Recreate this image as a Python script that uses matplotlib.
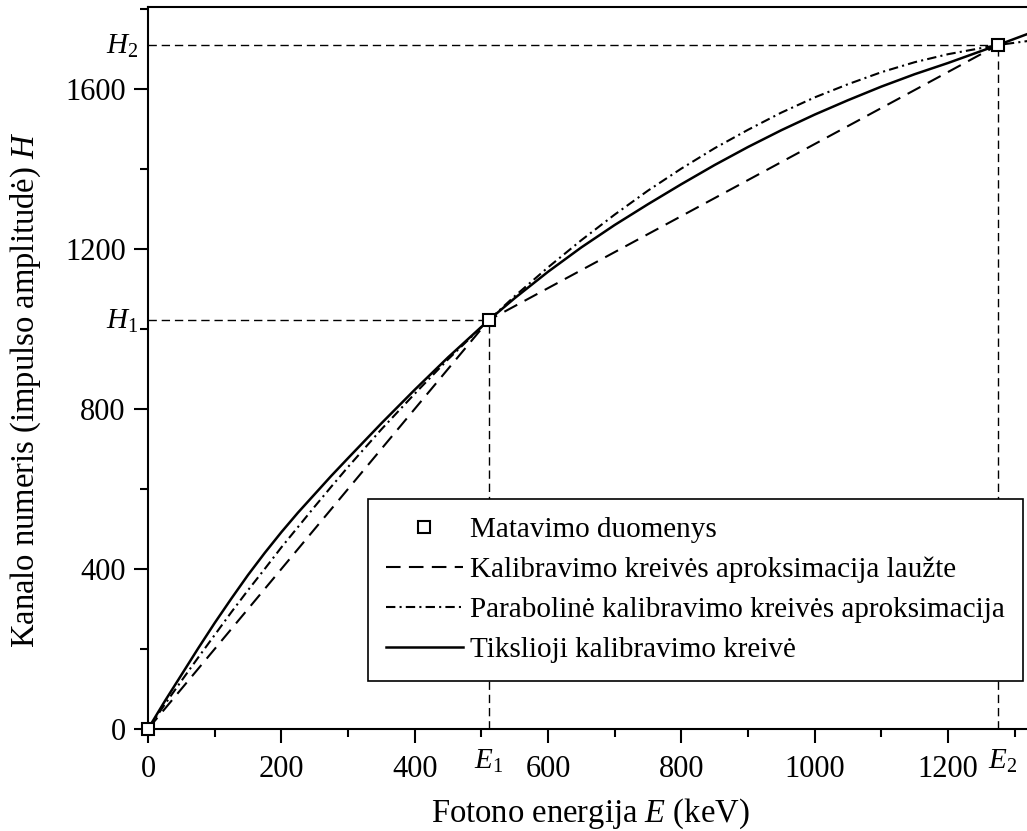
import matplotlib
matplotlib.use('Agg')
import matplotlib.pyplot as plt
from matplotlib.ticker import MultipleLocator

plt.rcParams['font.family'] = ['Liberation Serif', 'DejaVu Serif']
plt.rcParams['mathtext.fontset'] = 'custom'
plt.rcParams['mathtext.rm'] = 'Liberation Serif'
plt.rcParams['mathtext.it'] = 'Liberation Serif:italic'

# Matavimo taskai (E1 = 511 keV, E2 = 1275 keV)
meas_E = [0, 511, 1275]
meas_H = [0, 1022, 1710]

# Kreiviu reiksmes nuskaitytos is grafiko
energy = [0, 25, 50, 75, 100, 125, 150, 175, 200, 225, 250, 275, 300, 350, 400, 450, 511,
          550, 600, 650, 700, 750, 800, 850, 900, 950, 1000, 1050, 1100, 1150, 1200, 1275, 1320]
exact_H = [0, 69, 135, 201, 265, 326, 385, 440, 492, 541, 587, 633, 677, 764, 848, 929, 1022,
           1077, 1143, 1204, 1260, 1312, 1362, 1410, 1455, 1497, 1536, 1572, 1606, 1637, 1665, 1710, 1738]
parab_H = [0, 61, 120, 178, 235, 292, 347, 400, 454, 505, 556, 606, 655, 749, 838, 924, 1022,
           1082, 1154, 1222, 1286, 1346, 1401, 1452, 1498, 1541, 1579, 1612, 1642, 1667, 1687, 1710, 1720]

xticks = [0, 200, 400, 600, 800, 1000, 1200]
yticks = [0, 400, 800, 1200, 1600]

fig = plt.figure(figsize=(10.27, 8.31), dpi=100)
ax = fig.add_axes([148 / 1027, 102 / 831, 879 / 1027, 722 / 831])

# pagalbines linijos
for e, h in zip(meas_E[1:], meas_H[1:]):
    ax.plot([0, e], [h, h], color='black', lw=1.0, ls=(0, (6, 3.5)))
    ax.plot([e, e], [0, h], color='black', lw=1.0, ls=(0, (6, 3.5)))

ax.plot(meas_E, meas_H, color='black', lw=1.5, ls=(0, (7, 4)),
        label='Kalibravimo kreivės aproksimacija laužte')
ax.plot(energy, parab_H, color='black', lw=1.5, ls=(0, (4.5, 2, 1, 2)),
        label='Parabolinė kalibravimo kreivės aproksimacija')
ax.plot(energy, exact_H, color='black', lw=1.8, label='Tikslioji kalibravimo kreivė')
ax.plot(meas_E, meas_H, ls='none', marker='s', ms=9, mfc='white', mec='black', mew=1.5,
        clip_on=False, zorder=5, label='Matavimo duomenys')

ax.set_xlim(0, 1318.5)
ax.set_ylim(0, 1805)
ax.set_xticks(xticks)
ax.set_yticks(yticks)
ax.xaxis.set_minor_locator(MultipleLocator(100))
ax.yaxis.set_minor_locator(MultipleLocator(200))
ax.tick_params(which='major', direction='out', length=10, width=1.5, labelsize=22)
ax.tick_params(which='minor', direction='out', length=6, width=1.5)
ax.tick_params(axis='x', which='major', pad=9)
ax.tick_params(axis='y', which='major', pad=6)
ax.spines['right'].set_visible(False)
for s in ['left', 'bottom', 'top']:
    ax.spines[s].set_linewidth(1.5)

# E1, E2, H1, H2 zymes
ax.annotate('$E_1$', xy=(meas_E[1], 0), xytext=(0, -29), textcoords='offset points',
            ha='center', va='baseline', fontsize=21, annotation_clip=False)
ax.annotate('$E_2$', xy=(meas_E[2], 0), xytext=(3, -29), textcoords='offset points',
            ha='center', va='baseline', fontsize=21, annotation_clip=False)
ax.annotate('$H_1$', xy=(0, meas_H[1]), xytext=(-7, -6), textcoords='offset points',
            ha='right', va='baseline', fontsize=21, annotation_clip=False)
ax.annotate('$H_2$', xy=(0, meas_H[2]), xytext=(-7, -6), textcoords='offset points',
            ha='right', va='baseline', fontsize=21, annotation_clip=False)

fig.text(590 / 1027, 9 / 831, 'Fotono energija $E$ (keV)', ha='center', va='baseline', fontsize=23.5)
fig.text(26 / 1027, 1 - 390 / 831, 'Kanalo numeris (impulso amplitudė) $H$', rotation=90,
         ha='center', va='center', fontsize=23.5)

h, l = ax.get_legend_handles_labels()
order = [3, 0, 1, 2]
leg = ax.legend([h[i] for i in order], [l[i] for i in order],
                loc='upper left', bbox_to_anchor=(368 / 1027, 1 - 499 / 831),
                bbox_transform=fig.transFigure, fontsize=21, frameon=True, fancybox=False,
                edgecolor='black', framealpha=1, handlelength=2.64, handletextpad=0.27,
                borderpad=0.6, labelspacing=0.47, borderaxespad=0, numpoints=1)
leg.get_frame().set_linewidth(1.2)

fig.savefig('out.png', dpi=100)
